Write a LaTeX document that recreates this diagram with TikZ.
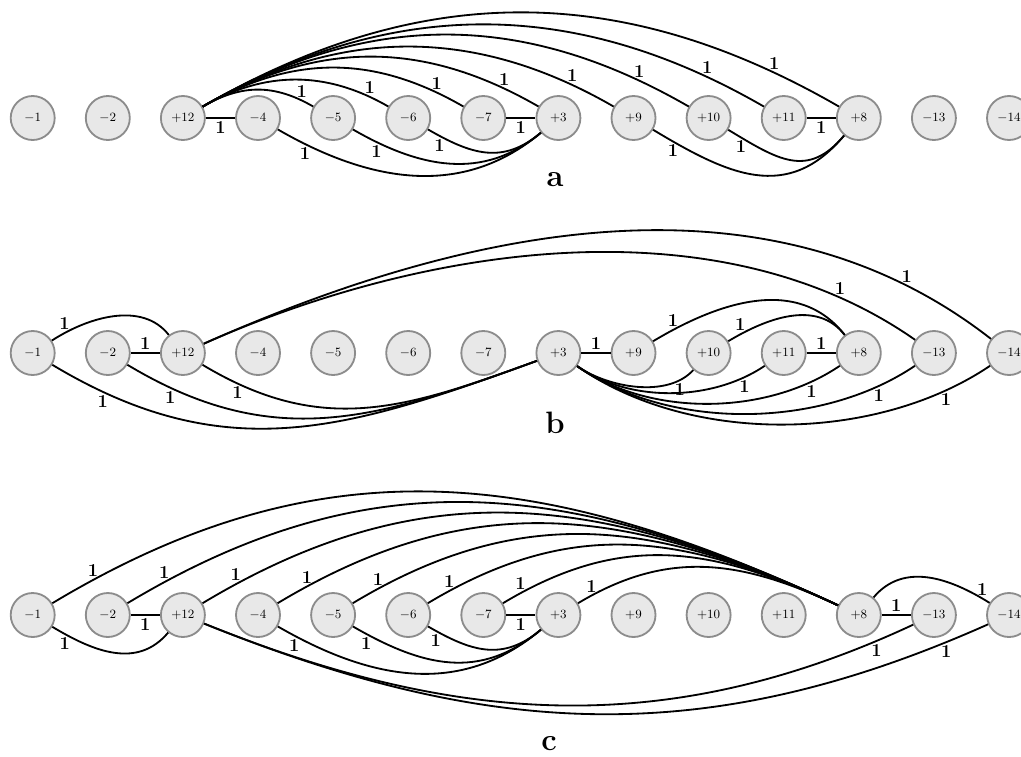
\documentclass[tikz,border=0pt]{standalone}
\usepackage{amsmath}
\usepackage{xcolor}
\usepackage{tikz}
\usetikzlibrary{positioning,arrows.meta}

\newcommand{\vlist}{$-1$,$-2$,$+12$,$-4$,$-5$,$-6$,$-7$,$+3$,$+9$,$+10$,$+11$,$+8$,$-13$,$-14$}

\begin{document}
\begin{tikzpicture}[
    vtx/.style  ={circle, draw=black!45, line width=1.3pt, fill=black!9,
                  minimum size=1.1cm, inner sep=0pt, font=\fontsize{9.5}{11}\selectfont},
    link/.style ={line width=1.3pt, black},
    wt/.style   ={font=\fontsize{13}{13}\selectfont\bfseries, inner sep=1.8pt},
    panel/.style={font=\fontsize{22}{22}\selectfont\bfseries, inner sep=0pt}
  ]
    \useasboundingbox (0,0) rectangle (25.525,-18.9);

    % --- the three rows of vertices ---
    \foreach \r/\y in {a/-2.95, b/-8.825, c/-15.375}
      \foreach \lab [count=\i] in \vlist
        \node[vtx] (\r\i) at ({0.8175+1.8775*(\i-1)},\y) {\lab};

    % --- panel a ---
    \draw[link] (a3) -- node[wt,below] {1} (a4);
    \draw[link] (a7) -- node[wt,below] {1} (a8);
    \draw[link] (a11) -- node[wt,below] {1} (a12);
    % fan out of +12 over the top
    \foreach \t/\d in {5/1.13cm,6/1.8cm,7/2.6cm,8/3.33cm,9/4cm,10/4.8cm,11/5.48cm,12/6.28cm}
      \draw[link] (a3) to[out=30,in=150,distance=\d] node[wt,above,pos=.9] {1} (a\t);
    % into +3 and +8 from below
    \draw[link] (a4) to[out=-30,in=-140,distance=2.6cm] node[wt,below,pos=.1] {1} (a8);
    \draw[link] (a5) to[out=-30,in=-140,distance=1.9cm] node[wt,below,pos=.12] {1} (a8);
    \draw[link] (a6) to[out=-30,in=-140,distance=1.25cm] node[wt,below,pos=.09] {1} (a8);
    \draw[link] (a9) to[out=-31,in=-130,distance=2.2cm] node[wt,below,pos=.09] {1} (a12);
    \draw[link] (a10) to[out=-31,in=-130,distance=1.43cm] node[wt,below,pos=.09] {1} (a12);
    \node[panel] (capa) at (13.875,-4.5) {a};

    % --- panel b ---
    \draw[link] (b2) -- node[wt,above] {1} (b3);
    \draw[link] (b8) -- node[wt,above] {1} (b9);
    \draw[link] (b11) -- node[wt,above] {1} (b12);
    \draw[link] (b1) to[out=33,in=128,distance=1.08cm] node[wt,above,pos=.11] {1} (b3);
    \draw[link] (b3) to[out=24,in=145,distance=6.05cm] node[wt,above,pos=.88] {1} (b13);
    \draw[link] (b3) to[out=24,in=142,distance=7.15cm] node[wt,above,pos=.88] {1} (b14);
    \draw[link] (b9) to[out=31,in=128,distance=1.9cm] node[wt,above,pos=.1] {1} (b12);
    \draw[link] (b10) to[out=31,in=128,distance=1.13cm] node[wt,above,pos=.1] {1} (b12);
    % long ones into +3 from the left
    \foreach \s/\d in {1/5.05cm,2/4.27cm,3/3.5cm}
      \draw[link] (b\s) to[out=-31,in=-160,distance=\d] node[wt,below,pos=.1] {1} (b8);
    % fan out of +3 underneath
    \draw[link] (b8) to[out=-35,in=-132,distance=.95cm] node[wt,below,pos=.85] {1} (b10);
    \foreach \t/\d in {11/1.6cm,12/2.23cm,13/2.83cm,14/3.45cm}
      \draw[link] (b8) to[out=-35,in=-146,distance=\d] node[wt,below,pos=.88] {1} (b\t);
    \node[panel] (capb) at (13.875,-10.575) {b};

    % --- panel c ---
    \draw[link] (c2) -- node[wt,below] {1} (c3);
    \draw[link] (c7) -- node[wt,below] {1} (c8);
    \draw[link] (c12) -- node[wt,above] {1} (c13);
    % everything left of +9 goes over the top to +8
    \foreach \s/\d in {1/8cm,2/7.25cm,3/6.5cm,4/5.75cm,5/4.98cm,6/4.23cm,7/3.48cm,8/2.65cm}
      \draw[link] (c\s) to[out=31,in=155,distance=\d] node[wt,above,pos=.05] {1} (c12);
    \draw[link] (c1) to[out=-31,in=-130,distance=1.2cm] node[wt,below,pos=.1] {1} (c3);
    \foreach \s/\d/\p in {4/2.65cm/.06,5/2cm/.065,6/1.25cm/.06}
      \draw[link] (c\s) to[out=-30,in=-140,distance=\d] node[wt,below,pos=\p] {1} (c8);
    \draw[link] (c3) to[out=-22,in=-155,distance=6.8cm] node[wt,below,pos=.95] {1} (c13);
    \draw[link] (c3) to[out=-22,in=-156,distance=7.7cm] node[wt,below,pos=.95] {1} (c14);
    \draw[link] (c12) to[out=50,in=148,distance=1.17cm] node[wt,above,pos=.94] {1} (c14);
    \node[panel] (capc) at (13.73,-18.6) {c};
\end{tikzpicture}
\end{document}
